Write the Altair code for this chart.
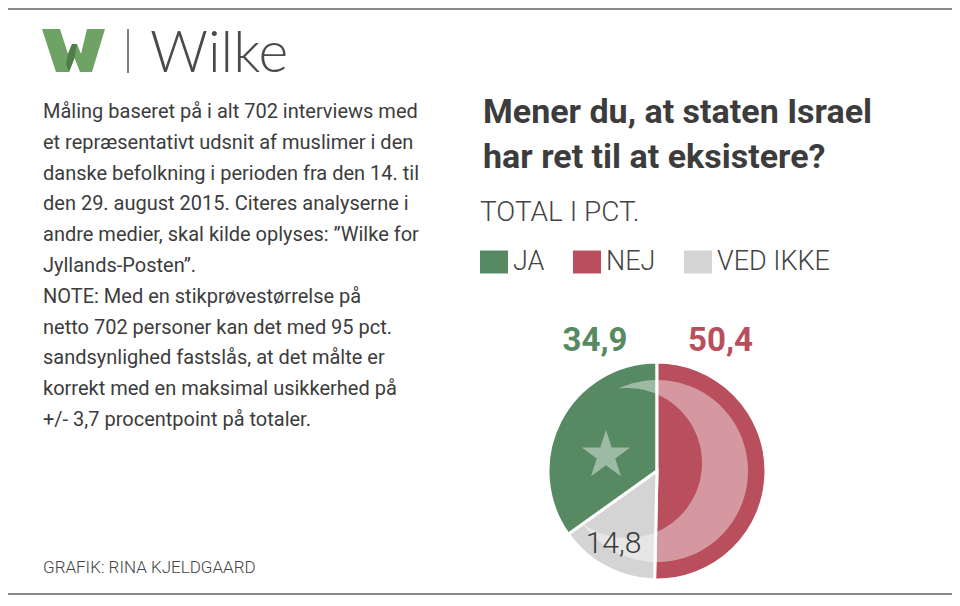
import altair as alt
import pandas as pd
import numpy as np

# ---------------- data ----------------
categories = ["JA", "NEJ", "VED IKKE"]
values = [34.9, 50.4, 14.8]
value_labels = ["34,9", "50,4", "14,8"]
clock_order = [3, 1, 2]          # NEJ first from 12 o'clock, then VED IKKE, then JA
colors = ["#578a62", "#b94f5c", "#d4d4d4"]

title_lines = ["Mener du, at staten Israel", "har ret til at eksistere?"]
legend_title = "TOTAL I PCT."
body_lines = [
    "Måling baseret på i alt 702 interviews med",
    "et repræsentativt udsnit af muslimer i den",
    "danske befolkning i perioden fra den 14. til",
    "den 29. august 2015. Citeres analyserne i",
    "andre medier, skal kilde oplyses: ”Wilke for",
    "Jyllands-Posten”.",
    "NOTE: Med en stikprøvestørrelse på",
    "netto 702 personer kan det med 95 pct.",
    "sandsynlighed fastslås, at det målte er",
    "korrekt med en maksimal usikkerhed på",
    "+/- 3,7 procentpoint på totaler.",
]
credit = "GRAFIK: RINA KJELDGAARD"
brand = "Wilke"

df = pd.DataFrame({"svar": categories, "pct": values, "label": value_labels, "rank": clock_order})
one = pd.DataFrame({"k": [0]})

# ---------------- layout / style ----------------
W, H = 944, 588
SANS = "Roboto, Liberation Sans, sans-serif"
CX, CY, R = 649, 463, 109


def path_from(points):
    return "M" + " L".join(f"{x:.4f},{y:.4f}" for x, y in points) + " Z"


# crescent shape (unit = outer radius of the crescent)
def crescent_path(a, b, r):
    d = np.hypot(a, b)
    ux, uy = a / d, b / d
    x0 = (d * d + 1 - r * r) / (2 * d)
    h = np.sqrt(1 - x0 * x0)
    p1 = (x0 * ux - h * uy, x0 * uy + h * ux)
    p2 = (x0 * ux + h * uy, x0 * uy - h * ux)
    base = np.arctan2(-uy, -ux)

    def wrap(t):
        return (t + np.pi) % (2 * np.pi) - np.pi

    pts = []
    t1 = wrap(np.arctan2(p1[1], p1[0]) - base)
    t2 = wrap(np.arctan2(p2[1], p2[0]) - base)
    for t in np.linspace(t1, t2, 90):
        pts.append((np.cos(base + t), np.sin(base + t)))
    s2 = wrap(np.arctan2(p2[1] - b, p2[0] - a) - base)
    s1 = wrap(np.arctan2(p1[1] - b, p1[0] - a) - base)
    for t in np.linspace(s2, s1, 90):
        pts.append((a + r * np.cos(base + t), b + r * np.sin(base + t)))
    return path_from(pts)


CRES_R = 91
CRESCENT = crescent_path(-30 / CRES_R, -8 / CRES_R, 75 / CRES_R)

star_pts = []
for k in range(10):
    ang = -np.pi / 2 + k * np.pi / 5
    rr = 1.0 if k % 2 == 0 else 0.382
    star_pts.append((rr * np.cos(ang), rr * np.sin(ang)))
STAR = path_from(star_pts)

w_px = [(0, 1), (18, 1), (26, 26), (30, 16), (35, 16), (39, 26), (45, 1), (63, 1),
        (50, 44), (38, 44), (32.5, 30), (27, 44), (14, 44)]
LOGO_W = path_from([((x - 31.5) / 31.5, (y - 22.5) / 31.5) for x, y in w_px])
w_dark = [(27, 44), (32.5, 30), (35, 16), (30, 16), (26, 26), (24, 36)]
LOGO_DARK = path_from([((x - 31.5) / 31.5, (y - 22.5) / 31.5) for x, y in w_dark])

RECT = "M-1,-0.82 L1,-0.82 L1,0.82 L-1,0.82 Z"

# ---------------- layers ----------------
pie = alt.Chart(df).mark_arc(x=CX, y=CY, radius=R, stroke="white", strokeWidth=3).encode(
    theta=alt.Theta("pct:Q", stack=True),
    order=alt.Order("rank:Q"),
    color=alt.Color(
        "svar:N",
        scale=alt.Scale(domain=categories, range=colors),
        legend=alt.Legend(
            title=legend_title, orient="none", legendX=472, legendY=191,
            direction="horizontal",
            titleFont=SANS, titleFontSize=28, titleFontWeight=300,
            titleColor="#444444", titlePadding=21,
            labelFont=SANS, labelFontSize=27, labelFontWeight=300,
            labelColor="#444444", labelOffset=5,
            symbolType=RECT, symbolSize=784, symbolStrokeWidth=0, symbolOpacity=1,
            columnPadding=28,
        ),
    ),
)

crescent = alt.Chart(one).mark_point(
    shape=CRESCENT, filled=True, fill="white", opacity=0.42, strokeWidth=0,
    size=(2 * CRES_R) ** 2,
).encode(x=alt.value(CX), y=alt.value(CY))

star = alt.Chart(one).mark_point(
    shape=STAR, filled=True, fill="white", opacity=0.42, strokeWidth=0, size=51 ** 2,
).encode(x=alt.value(598), y=alt.value(447.5))

lbl_ja = alt.Chart(df).transform_filter(alt.datum.svar == "JA").mark_text(
    font=SANS, fontSize=33, fontWeight="bold", color=colors[0], align="center", baseline="alphabetic"
).encode(text="label:N", x=alt.value(587), y=alt.value(343))
lbl_nej = alt.Chart(df).transform_filter(alt.datum.svar == "NEJ").mark_text(
    font=SANS, fontSize=33, fontWeight="bold", color=colors[1], align="center", baseline="alphabetic"
).encode(text="label:N", x=alt.value(712.5), y=alt.value(343))
lbl_ved = alt.Chart(df).transform_filter(alt.datum.svar == "VED IKKE").mark_text(
    font=SANS, fontSize=30, fontWeight=300, color="#3a3a3a", align="center", baseline="alphabetic"
).encode(text="label:N", x=alt.value(605.5), y=alt.value(545))

title = alt.Chart(one).mark_text(
    text=title_lines, font=SANS, fontSize=34, fontWeight="bold", color="#3c3c3c",
    align="left", baseline="alphabetic", lineHeight=45,
).encode(x=alt.value(475), y=alt.value(115))

body = alt.Chart(one).mark_text(
    text=body_lines, font=SANS, fontSize=20, color="#3c3c3c",
    align="left", baseline="alphabetic", lineHeight=30.8,
).encode(x=alt.value(35), y=alt.value(110))

credit_t = alt.Chart(one).mark_text(
    text=credit, font=SANS, fontSize=17, fontWeight=300, color="#444444",
    align="left", baseline="alphabetic",
).encode(x=alt.value(35), y=alt.value(565))

logo = alt.Chart(one).mark_point(
    shape=LOGO_W, filled=True, fill="#6fa366", opacity=1, strokeWidth=0, size=63 ** 2,
).encode(x=alt.value(65.5), y=alt.value(42.5))

logo_dark = alt.Chart(one).mark_point(
    shape=LOGO_DARK, filled=True, fill="#4f7f48", opacity=1, strokeWidth=0, size=63 ** 2,
).encode(x=alt.value(65.5), y=alt.value(42.5))

divider = alt.Chart(one).mark_rule(color="#555555", strokeWidth=1.5).encode(
    x=alt.value(120), y=alt.value(21), y2=alt.value(65))

brand_t = alt.Chart(one).mark_text(
    text=brand, font="Lato, Open Sans, sans-serif", fontSize=57, fontWeight=300, color="#4a4a4a",
    align="left", baseline="alphabetic",
).encode(x=alt.value(142), y=alt.value(64))

top_line = alt.Chart(one).mark_rule(color="#8a8a8a", strokeWidth=2).encode(
    x=alt.value(0), x2=alt.value(W), y=alt.value(1))
bottom_line = alt.Chart(one).mark_rule(color="#8a8a8a", strokeWidth=2).encode(
    x=alt.value(0), x2=alt.value(W), y=alt.value(H - 2))

chart = alt.layer(
    top_line, bottom_line, pie, crescent, star, lbl_ja, lbl_nej, lbl_ved,
    title, body, credit_t, logo, logo_dark, divider, brand_t,
).properties(
    width=W, height=H, padding=0, autosize="none", background="white",
).configure_view(stroke=None)

chart.save("out.html", embed_options={"renderer": "svg", "actions": False})
